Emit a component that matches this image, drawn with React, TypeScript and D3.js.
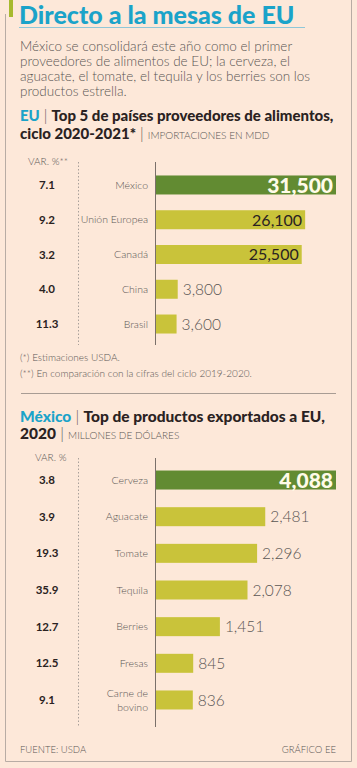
import React from "react";
import * as d3 from "d3";

const countries = ["México", "Unión Europea", "Canadá", "China", "Brasil"];
const countryValues = [31500, 26100, 25500, 3800, 3600];
const countryVar = ["7.1", "9.2", "3.2", "4.0", "11.3"];

const products = ["Cerveza", "Aguacate", "Tomate", "Tequila", "Berries", "Fresas", "Carne de bovino"];
const productValues = [4088, 2481, 2296, 2078, 1451, 845, 836];
const productVar = ["3.8", "3.9", "19.3", "35.9", "12.7", "12.5", "9.1"];

const paragraph = [
  "México se consolidará este año como el primer",
  "proveedores de alimentos de EU; la cerveza, el",
  "aguacate, el tomate, el tequila y los berries son los",
  "productos estrella.",
];

const BG = "#fde8d9";
const CYAN = "#1ba3c9";
const DARK_GREEN = "#628b32";
const LIGHT_GREEN = "#c9c33a";
const GRAY = "#5a5654";
const DARK = "#2a2222";
const FONT = "Lato, 'Open Sans', sans-serif";

const fmt = d3.format(",");

type SectionProps = {
  names: string[];
  values: number[];
  vars: string[];
  y0: number;
  y1: number;
  axisTop: number;
  axisBottom: number;
};

function BarSection({ names, values, vars, y0, y1, axisTop, axisBottom }: SectionProps) {
  const x = d3.scaleLinear().domain([0, d3.max(values)!]).range([156, 336]);
  const y = d3.scaleBand<string>().domain(names).range([y0, y1]);
  const bh = 19;
  const max = d3.max(values)!;
  return (
    <g>
      <line x1={78.5} x2={78.5} y1={axisTop} y2={axisBottom} stroke="#a9a09a" strokeWidth={1} strokeDasharray="1.5,2" />
      {names.map((n, i) => {
        const cy = y(n)! + y.bandwidth() / 2;
        const w = x(values[i]) - x(0);
        const first = i === 0;
        const inside = values[i] / max > 0.7;
        const words = n.split(" ");
        const wrap = n.length > 13 && words.length > 2;
        const lines = wrap ? [words.slice(0, 2).join(" "), words.slice(2).join(" ")] : [n];
        return (
          <g key={n}>
            <text x={47} y={cy} dy="0.35em" textAnchor="middle" fontFamily={FONT} fontWeight={700} fontSize={11.5} fill={DARK}>
              {vars[i]}
            </text>
            {lines.map((l, k) => (
              <text key={k} x={148} y={cy + (k - (lines.length - 1) / 2) * 14} dy="0.35em" textAnchor="end" fontFamily={FONT} fontWeight={300} fontSize={10.5} fill={GRAY}>
                {l}
              </text>
            ))}
            <rect x={x(0)} y={cy - bh / 2} width={w} height={bh} fill={first ? DARK_GREEN : LIGHT_GREEN} />
            {first ? (
              <text x={x(values[i]) - 3} y={cy} dy="0.36em" textAnchor="end" fontFamily={FONT} fontWeight={900} fontSize={21} fill="#fffbe8">
                {fmt(values[i])}
              </text>
            ) : inside ? (
              <text x={x(values[i]) - 3} y={cy} dy="0.36em" textAnchor="end" fontFamily={FONT} fontWeight={400} fontSize={16} fill={DARK}>
                {fmt(values[i])}
              </text>
            ) : (
              <text x={x(values[i]) + 5} y={cy} dy="0.36em" textAnchor="start" fontFamily={FONT} fontWeight={300} fontSize={15.5} fill={GRAY}>
                {fmt(values[i])}
              </text>
            )}
          </g>
        );
      })}
      <line x1={155.5} x2={155.5} y1={axisTop} y2={axisBottom} stroke="#7a706a" strokeWidth={1} />
    </g>
  );
}

export default function App() {
  return (
    <svg width={357} height={768} style={{ position: "absolute", left: 0, top: 0 }} xmlns="http://www.w3.org/2000/svg">
      <rect x={0} y={0} width={357} height={768} fill={BG} />
      <path d="M5.5,14 L5.5,761.5 L351.5,761.5 L351.5,0" fill="none" stroke="#b8aca4" strokeWidth={1} />
      <rect x={9} y={0} width={4} height={17} fill="#a7b92e" />
      <text x={19} y={24} fontFamily={FONT} fontWeight={900} fontSize={25} fill={CYAN}>
        Directo a la mesas de EU
      </text>
      <line x1={19} x2={305} y1={27.5} y2={27.5} stroke="#8fc7d8" strokeWidth={1} />
      {paragraph.map((l, i) => (
        <text key={i} x={20} y={51 + i * 15} fontFamily={FONT} fontWeight={300} fontSize={13.5} fill={GRAY}>
          {l}
        </text>
      ))}

      <text x={20} y={121} fontFamily={FONT} fontSize={15} fontWeight={900} fill={DARK}>
        <tspan fill={CYAN}>EU</tspan>
        <tspan fill={GRAY} fontWeight={300}> | </tspan>
        <tspan>Top 5 de países proveedores de alimentos,</tspan>
      </text>
      <text x={20} y={139} fontFamily={FONT} fontSize={15} fontWeight={900} fill={DARK}>
        <tspan>ciclo 2020-2021*</tspan>
        <tspan fill={GRAY} fontWeight={300}> | </tspan>
        <tspan fill={GRAY} fontWeight={300} fontSize={10}>IMPORTACIONES EN MDD</tspan>
      </text>
      <text x={28} y={165} fontFamily={FONT} fontWeight={300} fontSize={10} fill={GRAY}>VAR. %**</text>

      <BarSection names={countries} values={countryValues} vars={countryVar} y0={167.6} y1={341.4} axisTop={162} axisBottom={345} />

      <text x={20} y={361} fontFamily={FONT} fontWeight={300} fontSize={10} fill={GRAY}>(*) Estimaciones USDA.</text>
      <text x={20} y={377} fontFamily={FONT} fontWeight={300} fontSize={10} fill={GRAY}>(**) En comparación con la cifras del ciclo 2019-2020.</text>
      <line x1={21} x2={336} y1={393.5} y2={393.5} stroke="#a89c94" strokeWidth={1} />

      <text x={20} y={422} fontFamily={FONT} fontSize={15.5} fontWeight={900} fill={DARK}>
        <tspan fill={CYAN}>México</tspan>
        <tspan fill={GRAY} fontWeight={300}> | </tspan>
        <tspan>Top de productos exportados a EU,</tspan>
      </text>
      <text x={20} y={439} fontFamily={FONT} fontSize={15.5} fontWeight={900} fill={DARK}>
        <tspan>2020</tspan>
        <tspan fill={GRAY} fontWeight={300}> | </tspan>
        <tspan fill={GRAY} fontWeight={300} fontSize={10}>MILLONES DE DÓLARES</tspan>
      </text>
      <text x={35} y={461} fontFamily={FONT} fontWeight={300} fontSize={10} fill={GRAY}>VAR. %</text>

      <BarSection names={products} values={productValues} vars={productVar} y0={461.7} y1={718.3} axisTop={458} axisBottom={727} />

      <text x={20} y={753} fontFamily={FONT} fontWeight={300} fontSize={9.5} fill={GRAY}>FUENTE: USDA</text>
      <text x={336} y={753} textAnchor="end" fontFamily={FONT} fontWeight={300} fontSize={9.5} fill={GRAY}>GRÁFICO EE</text>
    </svg>
  );
}
